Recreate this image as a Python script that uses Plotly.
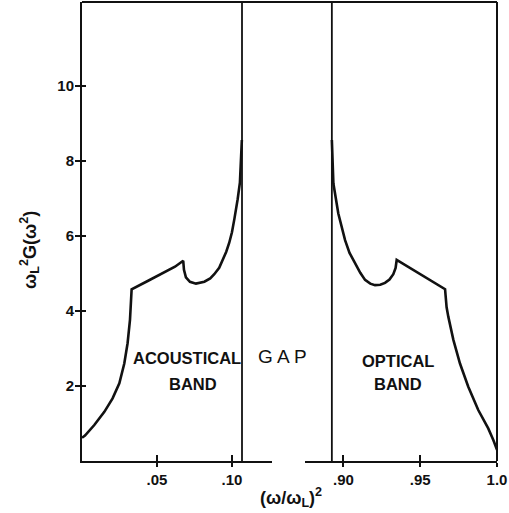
import plotly.graph_objects as go

# ---- data ----
acoustical_x = [0.0, 0.002, 0.0082, 0.0149, 0.0204, 0.0249, 0.0282, 0.0304, 0.0320, 0.0327, 0.0331,
                0.0438, 0.0549, 0.0620, 0.0675, 0.0680, 0.0693, 0.0720, 0.0760, 0.0816, 0.0855,
                0.0882, 0.0915, 0.0938, 0.0962, 0.0982, 0.1000, 0.1016, 0.1028, 0.1038, 0.1053,
                0.1060, 0.1066]
acoustical_y = [0.62, 0.68, 0.96, 1.31, 1.67, 2.07, 2.60, 3.14, 3.76, 4.29, 4.58,
                4.80, 5.03, 5.18, 5.34, 5.10, 4.90, 4.78, 4.73, 4.78, 4.87,
                4.98, 5.15, 5.36, 5.58, 5.82, 6.10, 6.45, 6.70, 6.98, 7.42,
                8.03, 8.56]

optical_x = [0.8925, 0.8935, 0.8967, 0.9011, 0.9040, 0.9076, 0.9110, 0.9141, 0.9175, 0.9206,
             0.9240, 0.9271, 0.9300, 0.9325, 0.9340, 0.9347, 0.9434, 0.9543, 0.9662, 0.9665,
             0.9672, 0.9683, 0.9716, 0.9759, 0.9813, 0.9878, 0.9943, 0.9976, 0.9993, 1.0]
optical_y = [8.56, 7.40, 6.60, 5.89, 5.55, 5.27, 5.02, 4.83, 4.73, 4.69,
             4.70, 4.75, 4.84, 4.98, 5.15, 5.36, 5.14, 4.87, 4.58, 4.43,
             4.10, 3.85, 3.23, 2.60, 1.98, 1.36, 0.87, 0.56, 0.38, 0.30]

acoustical_edge = 0.1067
optical_edge = 0.8925
y_max = 12.24

left_range = [0.0, 0.1267]
right_range = [0.875, 1.0]

left_tickvals = [0.05, 0.10]
left_ticktext = [".05", ".10"]
right_tickvals = [0.90, 0.95, 1.0]
right_ticktext = [".90", ".95", "1.0"]
y_tickvals = [2, 4, 6, 8, 10]
y_ticktext = ["2", "4", "6", "8", "10"]

FONT = "Liberation Sans"
BLACK = "#111111"

fig = go.Figure()

fig.add_trace(go.Scatter(x=acoustical_x, y=acoustical_y, mode="lines",
                         line=dict(color=BLACK, width=2.6), xaxis="x", yaxis="y",
                         showlegend=False, hoverinfo="skip"))
fig.add_trace(go.Scatter(x=[acoustical_edge, acoustical_edge], y=[0, y_max], mode="lines",
                         line=dict(color=BLACK, width=1.8), xaxis="x", yaxis="y",
                         showlegend=False, hoverinfo="skip"))
fig.add_trace(go.Scatter(x=optical_x, y=optical_y, mode="lines",
                         line=dict(color=BLACK, width=2.6), xaxis="x2", yaxis="y",
                         showlegend=False, hoverinfo="skip"))
fig.add_trace(go.Scatter(x=[optical_edge, optical_edge], y=[0, y_max], mode="lines",
                         line=dict(color=BLACK, width=1.8), xaxis="x2", yaxis="y",
                         showlegend=False, hoverinfo="skip"))
# empty traces so the overlay axes (inner halves of the crossing ticks) are drawn
fig.add_trace(go.Scatter(x=[], y=[], xaxis="x3", yaxis="y2", showlegend=False, hoverinfo="skip"))
fig.add_trace(go.Scatter(x=[], y=[], xaxis="x4", yaxis="y2", showlegend=False, hoverinfo="skip"))

d_left = [0.0, 0.4578]
d_right = [0.5373, 1.0]
tickfont = dict(family=FONT, size=15, color=BLACK, weight="bold")

common_x = dict(showgrid=False, zeroline=False, showline=True, linecolor=BLACK, linewidth=2,
                ticks="outside", ticklen=4, tickwidth=2, tickcolor=BLACK, tickfont=tickfont)
inner = dict(showticklabels=False, ticks="inside", tickwidth=2, tickcolor=BLACK,
             showgrid=False, zeroline=False, showline=False)

fig.update_layout(
    width=509, height=513,
    margin=dict(l=82, r=12, t=2, b=52),
    paper_bgcolor="white", plot_bgcolor="white",
    xaxis=dict(domain=d_left, range=left_range, tickvals=left_tickvals, ticktext=left_ticktext,
               anchor="y", **common_x),
    xaxis2=dict(domain=d_right, range=right_range, tickvals=right_tickvals, ticktext=right_ticktext,
                anchor="y", **common_x),
    xaxis3=dict(overlaying="x", range=left_range, tickvals=left_tickvals, ticklen=6,
                anchor="y2", **inner),
    xaxis4=dict(overlaying="x2", range=right_range, tickvals=right_tickvals, ticklen=6,
                anchor="y2", **inner),
    yaxis=dict(range=[0, y_max], tickvals=y_tickvals, ticktext=y_ticktext, showgrid=False,
               zeroline=False, showline=True, linecolor=BLACK, linewidth=2,
               ticks="outside", ticklen=5, tickwidth=2, tickcolor=BLACK, tickfont=tickfont,
               anchor="x", ticklabelstandoff=-2),
    yaxis2=dict(overlaying="y", range=[0, y_max], tickvals=y_tickvals, ticklen=4,
                anchor="x3", **inner),
)

# frame: top and right edges
fig.add_shape(type="line", xref="paper", yref="paper", x0=0, x1=1, y0=1, y1=1,
              line=dict(color=BLACK, width=2))
fig.add_shape(type="line", xref="paper", yref="paper", x0=1, x1=1, y0=0, y1=1,
              line=dict(color=BLACK, width=2))

labfont = dict(family=FONT, size=16.5, color=BLACK, weight="bold")
fig.add_annotation(x=0.070, y=2.74, xref="x", yref="y", text="ACOUSTICAL", showarrow=False,
                   font=labfont, xanchor="center", yanchor="middle")
fig.add_annotation(x=0.0738, y=2.05, xref="x", yref="y", text="BAND", showarrow=False,
                   font=labfont, xanchor="center", yanchor="middle")
fig.add_annotation(x=0.9358, y=2.67, xref="x2", yref="y", text="OPTICAL", showarrow=False,
                   font=labfont, xanchor="center", yanchor="middle")
fig.add_annotation(x=0.9353, y=2.05, xref="x2", yref="y", text="BAND", showarrow=False,
                   font=labfont, xanchor="center", yanchor="middle")
fig.add_annotation(x=0.484, y=0.2266, xref="paper", yref="paper", text="G A P", showarrow=False,
                   font=dict(family=FONT, size=19, color=BLACK), xanchor="center", yanchor="middle")

# axis titles
fig.add_annotation(x=-0.1253, y=0.4597, xref="paper", yref="paper",
                   text="ω<sub>L</sub><sup>2</sup>G(ω<sup>2</sup>)", textangle=-90,
                   showarrow=False, xanchor="center", yanchor="middle",
                   font=dict(family=FONT, size=18, color=BLACK, weight="bold"))
fig.add_annotation(x=0.5036, y=-0.0806, xref="paper", yref="paper",
                   text="(ω/ω<sub>L</sub>)<sup>2</sup>", showarrow=False,
                   xanchor="center", yanchor="middle",
                   font=dict(family=FONT, size=18, color=BLACK, weight="bold"))

fig.write_html("out.html")
